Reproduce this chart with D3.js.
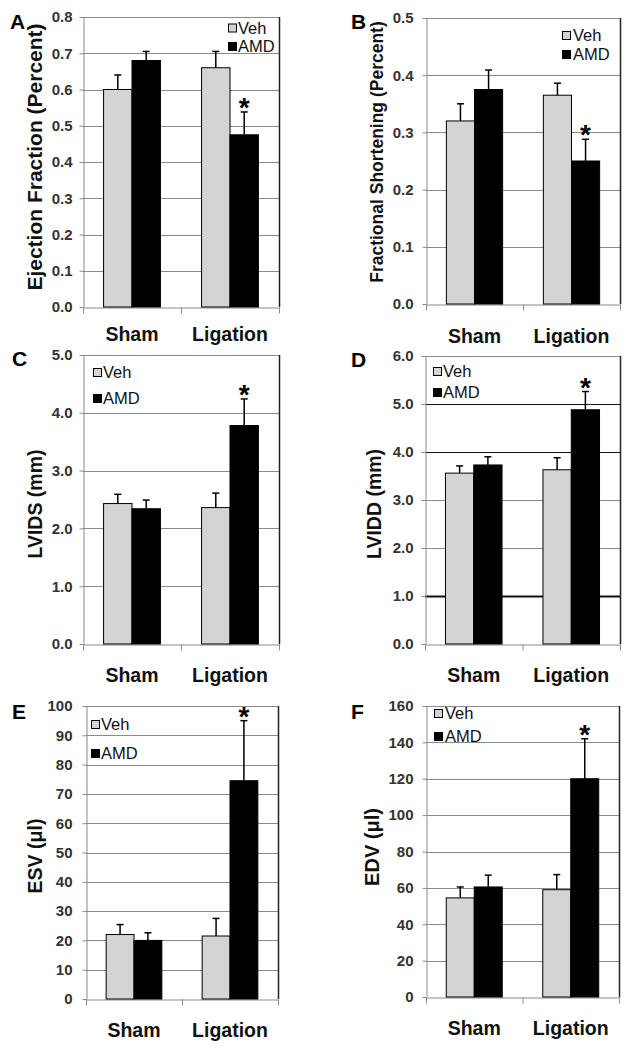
<!DOCTYPE html>
<html><head><meta charset="utf-8">
<script src="https://cdn.jsdelivr.net/npm/d3@7"></script>
<style>body{margin:0;background:#fff}svg{display:block}text{font-family:"Liberation Sans",Arial,sans-serif}</style>
</head><body><svg id="c" width="633" height="1050"></svg>
<script>
const categories = ["Sham", "Ligation"];
const series = ["Veh", "AMD"];
const panelLetters = ["A", "B", "C", "D", "E", "F"];
const yTitles = ["Ejection Fraction (Percent)", "Fractional Shortening (Percent)", "LVIDS (mm)", "LVIDD (mm)", "ESV (μl)", "EDV (μl)"];
const yMax = [0.8, 0.5, 5, 6, 100, 160];
const yStep = [0.1, 0.1, 1, 1, 10, 20];
const yFormat = [".1f", ".1f", ".1f", ".1f", "d", "d"];
// rows: Sham, Ligation ; columns: Veh, AMD
const efMean = [[0.60, 0.68], [0.66, 0.475]];
const efErr = [[0.04, 0.025], [0.045, 0.063]];
const fsMean = [[0.32, 0.375], [0.365, 0.25]];
const fsErr = [[0.03, 0.034], [0.021, 0.038]];
const lvidsMean = [[2.43, 2.34], [2.36, 3.78]];
const lvidsErr = [[0.16, 0.15], [0.25, 0.46]];
const lviddMean = [[3.56, 3.73], [3.63, 4.88]];
const lviddErr = [[0.15, 0.17], [0.25, 0.38]];
const esvMean = [[22, 20], [21.5, 74.5]];
const esvErr = [[3.4, 2.6], [6, 20.5]];
const edvMean = [[54.5, 60.5], [59, 120]];
const edvErr = [[6, 6.5], [8.3, 22]];
const significant = [[false, false], [false, true]];

const means = [efMean, fsMean, lvidsMean, lviddMean, esvMean, edvMean];
const errs = [efErr, fsErr, lvidsErr, lviddErr, esvErr, edvErr];

const layout = [
  {left:83, right:279, top:17, bottom:307, lx:10, ly:29, tx:42, tcy:157, ts:21, tr:72, cy:341, sx:228, ry:[28.5,47], tx2:238},
  {left:426, right:620, top:18, bottom:304, lx:351, ly:29, tx:383, tcy:152, ts:17.5, tr:413, cy:343, sx:562, ry:[36,55], tx2:573},
  {left:83, right:279, top:355, bottom:644, lx:12, ly:366, tx:42, tcy:504, ts:19.5, tr:72, cy:682, sx:93, ry:[373,399], tx2:103},
  {left:425, right:620, top:356, bottom:644, lx:351, ly:367, tx:381, tcy:504, ts:19.5, tr:413, cy:682, sx:433, ry:[372,393], tx2:443},
  {left:86, right:278, top:706, bottom:999, lx:12, ly:719, tx:42, tcy:856, ts:19.5, tr:72, cy:1037, sx:91, ry:[725,754], tx2:101},
  {left:426, right:619, top:706, bottom:997, lx:351, ly:719, tx:379, tcy:847, ts:20, tr:413, cy:1035, sx:434, ry:[714,737], tx2:445}
];
const fills = {Veh: "#d4d4d4", AMD: "#000"};
const svg = d3.select("#c");

panelLetters.forEach((letter, i) => {
  const L = layout[i];
  const mean = means[i], err = errs[i];
  const g = svg.append("g");
  const y = d3.scaleLinear().domain([0, yMax[i]]).range([L.bottom, L.top]);
  const x0 = d3.scaleBand().domain(categories).range([L.left, L.right]);
  const bw = x0.bandwidth(), gw = bw * 0.58, off = (bw - gw) / 2;
  const x1 = d3.scaleBand().domain(series).range([off, off + gw]);
  const n = Math.round(yMax[i] / yStep[i]);
  const ticks = d3.range(0, n + 1).map(k => +(k * yStep[i]).toFixed(4));

  // gridlines
  g.selectAll("line.grid").data(ticks.filter(t => t > 0)).join("line")
    .attr("x1", L.left).attr("x2", L.right)
    .attr("y1", d => Math.round(y(d)) + 0.5).attr("y2", d => Math.round(y(d)) + 0.5)
    .attr("stroke", d => (i === 3 && (d === 1 || d === 4 || d === 5)) ? "#111" : "#8a8a8a")
    .attr("stroke-width", d => (i === 3 && d === 1) ? 2 : 1);

  // y axis
  const ya = g.append("g").attr("transform", `translate(${L.left + 0.5},0)`)
    .call(d3.axisLeft(y).tickValues(ticks).tickSize(4).tickSizeOuter(0)
      .tickPadding(L.left - L.tr - 4).tickFormat(d3.format(yFormat[i])));
  ya.select(".domain").attr("stroke", "#8a8a8a");
  ya.selectAll(".tick line").attr("stroke", "#8a8a8a");
  ya.selectAll(".tick text").attr("font-family", '"Liberation Sans",Arial,sans-serif')
    .attr("font-size", 15).attr("font-weight", "bold").attr("fill", "#333");

  // x axis (ticks at category boundaries)
  const xb = d3.scaleLinear().domain([0, categories.length]).range([L.left, L.right]);
  const xa = g.append("g").attr("transform", `translate(0,${L.bottom + 0.5})`)
    .call(d3.axisBottom(xb).tickValues(d3.range(0, categories.length + 1)).tickSize(6).tickSizeOuter(0).tickFormat(""));
  xa.select(".domain").attr("stroke", "#8a8a8a");
  xa.selectAll(".tick line").attr("stroke", "#8a8a8a");

  // right border
  g.append("line").attr("x1", L.right + 0.5).attr("x2", L.right + 0.5)
    .attr("y1", L.top).attr("y2", L.bottom).attr("stroke", "#222").attr("stroke-width", 1.5);

  // bars
  const rows = [];
  categories.forEach((c, ci) => series.forEach((s, si) => rows.push({c, s, v: mean[ci][si], e: err[ci][si], sig: significant[ci][si]})));
  g.selectAll("rect.bar").data(rows).join("rect")
    .attr("x", d => x0(d.c) + x1(d.s)).attr("width", x1.bandwidth())
    .attr("y", d => y(d.v)).attr("height", d => y(0) - y(d.v))
    .attr("fill", d => fills[d.s]).attr("stroke", "#000").attr("stroke-width", 1);

  // error bars
  const cx = d => x0(d.c) + x1(d.s) + x1.bandwidth() / 2;
  g.selectAll("line.err").data(rows).join("line")
    .attr("x1", cx).attr("x2", cx).attr("y1", d => y(d.v)).attr("y2", d => y(d.v + d.e))
    .attr("stroke", "#000").attr("stroke-width", 1.5);
  g.selectAll("line.cap").data(rows).join("line")
    .attr("x1", d => cx(d) - 3.5).attr("x2", d => cx(d) + 3.5)
    .attr("y1", d => y(d.v + d.e)).attr("y2", d => y(d.v + d.e))
    .attr("stroke", "#000").attr("stroke-width", 1.5);
  g.selectAll("text.sig").data(rows.filter(d => d.sig)).join("text")
    .attr("x", cx).attr("y", d => y(d.v + d.e) + 5).attr("text-anchor", "middle")
    .attr("font-size", 28).attr("font-weight", "bold").attr("fill", "#000").text("*");

  // category labels
  g.selectAll("text.cat").data(categories).join("text")
    .attr("x", d => x0(d) + bw / 2).attr("y", L.cy).attr("text-anchor", "middle")
    .attr("font-size", 19.5).attr("font-weight", "bold").attr("fill", "#111").text(d => d);

  // y title
  g.append("text").attr("transform", `translate(${L.tx},${L.tcy}) rotate(-90)`)
    .attr("text-anchor", "middle").attr("font-size", L.ts).attr("font-weight", "bold")
    .attr("fill", "#111").text(yTitles[i]);

  // panel letter
  g.append("text").attr("x", L.lx).attr("y", L.ly).attr("font-size", 21).attr("font-weight", "bold")
    .attr("fill", "#000").text(letter);

  // legend
  series.forEach((s, si) => {
    g.append("rect").attr("x", L.sx + 0.5).attr("y", L.ry[si] - 4.5).attr("width", 8).attr("height", 8)
      .attr("fill", fills[s]).attr("stroke", "#000").attr("stroke-width", 1);
    g.append("text").attr("x", L.tx2).attr("y", L.ry[si] + 5).attr("font-size", 16.5)
      .attr("fill", "#111").text(s);
  });
});
</script></body></html>
